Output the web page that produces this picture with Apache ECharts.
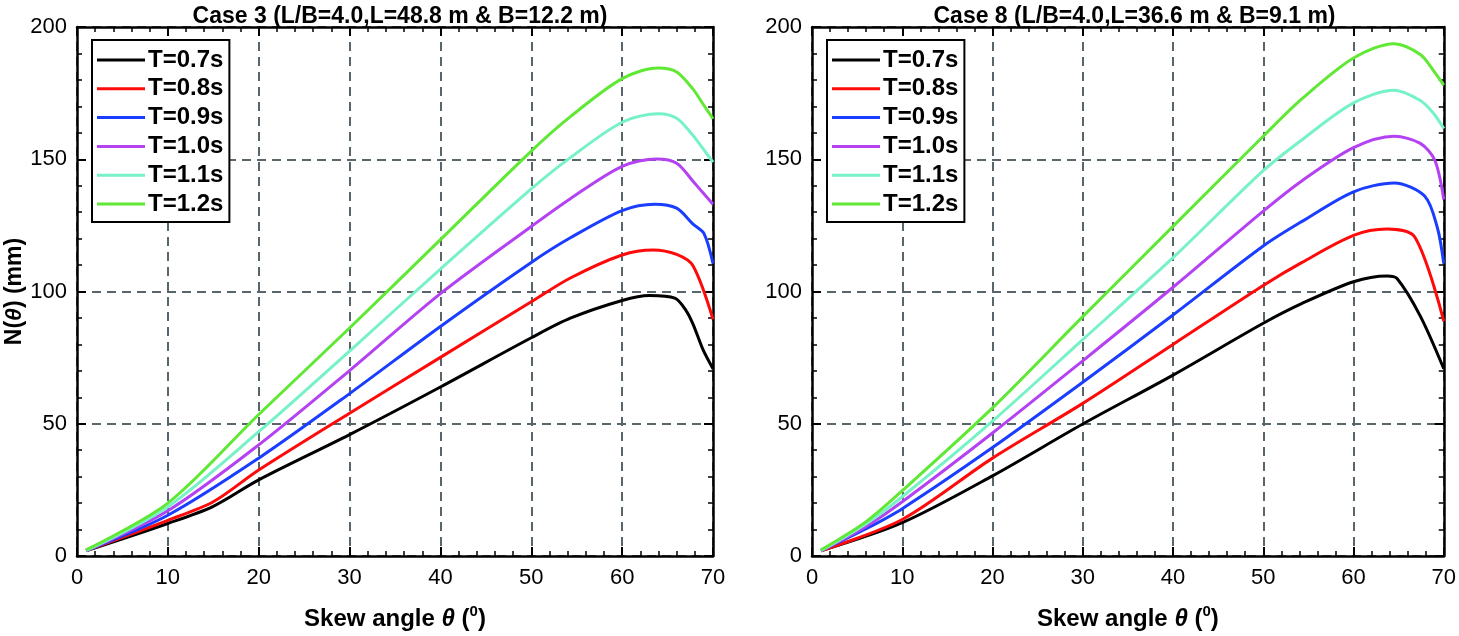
<!DOCTYPE html>
<html>
<head>
<meta charset="utf-8">
<script src="https://cdn.jsdelivr.net/npm/echarts@6/dist/echarts.min.js"></script>
<style>html,body{margin:0;padding:0;background:#fff}#c{width:1459px;height:636px}</style>
</head>
<body>
<div id="c"></div>
<script>
// ---- data ([skew angle, N(theta) mm]) ----
const seriesNames = ["T=0.7s", "T=0.8s", "T=0.9s", "T=1.0s", "T=1.1s", "T=1.2s"];
const seriesColors = ["#000000", "#ff0a0a", "#1a3dff", "#b441f2", "#76f2c6", "#5fe834"];
const panelTitles = ["Case 3 (L/B=4.0,L=48.8 m & B=12.2 m)", "Case 8 (L/B=4.0,L=36.6 m & B=9.1 m)"];

const case3_T07 = [[1,2],[10,12.3],[15,18.8],[20,28.8],[30,45.9],[40,63.9],[50,82.5],[54.3,89.9],[60,96.6],[63,98.5],[65.8,97.5],[67,93],[67.8,87.7],[68.9,78],[70,70.8]];
const case3_T08 = [[1,2],[10,13.5],[15,20.5],[20,32.5],[30,54],[40,75.1],[50,96.1],[54.3,105.1],[60,113.8],[63.4,115.7],[66,114],[67.8,109.7],[70,89.5]];
const case3_T09 = [[1,2],[10,15.4],[20,37],[30,61.4],[40,86.8],[50,111],[54.3,120.3],[60,130.6],[63.6,133],[66,131.5],[67.8,125.5],[69,122],[70,110.6]];
const case3_T10 = [[1,2],[10,17.1],[20,42],[30,70.1],[40,99.2],[50,124.6],[54.3,135.1],[60,147.3],[63.8,150.1],[66,148.5],[67.8,141.7],[68.9,137.3],[70,133]];
const case3_T11 = [[1,2],[10,18.6],[20,47],[30,77.5],[40,108.5],[50,138.8],[54.3,150.6],[60,164],[64,167.2],[66,165.5],[67.8,159],[68.9,154],[70,148.9]];
const case3_T12 = [[1,2.3],[10,20],[20,53.5],[30,86.2],[40,119.6],[50,153.1],[54.3,166.1],[60,180.5],[64,184.5],[66,183],[67.8,176.5],[68.9,170.9],[70,165.3]];

const case8_T07 = [[1,2],[10,12.6],[20,30.3],[30,49.9],[40,68.4],[50,88],[54.3,95.5],[60,103.7],[63.7,105.9],[64.8,105],[67.4,90.7],[70,70.8]];
const case8_T08 = [[1,2],[10,13.8],[20,37],[30,57.7],[40,80],[50,102.3],[54.3,111],[60,121.2],[63.7,123.6],[66.8,120.5],[70,88.8]];
const case8_T09 = [[1,2],[6,10.3],[10,17.9],[20,41],[30,65.7],[40,91.1],[50,117.2],[54.3,126.5],[60,137.7],[64.5,141],[67.9,136],[69.3,124],[70,110.6]];
const case8_T10 = [[1,2],[6,11.2],[10,20.5],[20,46.5],[30,73.8],[40,101.6],[50,130.4],[54.3,141.9],[60,154.4],[64.5,158.7],[67.4,156],[69,149.7],[70,134.8]];
const case8_T11 = [[1,2],[6,12.2],[10,22.4],[20,51],[30,81.8],[40,112.8],[50,145.7],[54.3,157.4],[60,171.3],[64.5,176.1],[67.4,172.2],[68.9,167.2],[70,161.6]];
const case8_T12 = [[1,2.3],[6,13],[10,24.7],[20,56],[30,90.5],[40,124.6],[50,158.7],[54.3,172.9],[60,188.3],[64.5,193.7],[67.4,189.6],[68.9,183.3],[70,178]];

const panelData = [
  [case3_T07, case3_T08, case3_T09, case3_T10, case3_T11, case3_T12],
  [case8_T07, case8_T08, case8_T09, case8_T10, case8_T11, case8_T12]
];

const X_MIN = 0, X_MAX = 70, X_STEP = 10;
const Y_MIN = 0, Y_MAX = 200, Y_STEP = 50;

// ---- layout / style ----
const FONT = '"Liberation Sans", Arial, sans-serif';
const grids = [
  {left: 77, top: 27, width: 636, height: 536},
  {left: 812, top: 27, width: 635, height: 536}
];
const gridColor = '#58666b';

const xAxes = [], yAxes = [], series = [], legends = [], titles = [];
grids.forEach((g, gi) => {
  const base = {
    type: 'value', gridIndex: gi, min: X_MIN, max: X_MAX, interval: X_STEP,
    axisLine: {show: true, onZero: false, lineStyle: {color: '#000', width: 2.5}},
    axisTick: {show: true, inside: true, length: 9, lineStyle: {color: '#000', width: 2}},
    minorTick: {show: true, splitNumber: 5, length: 5, lineStyle: {color: '#000', width: 1.5}},
  };
  xAxes.push(Object.assign({}, base, {
    position: 'bottom',
    axisLabel: {show: true, fontFamily: FONT, fontSize: 22, color: '#000', margin: 11},
    splitLine: {show: true, lineStyle: {color: gridColor, width: 2, type: [9, 6]}},
    name: 'Skew angle {i|θ} ({s|0})', nameLocation: 'middle', nameGap: 48,
    nameTextStyle: {fontFamily: FONT, fontSize: 24, fontWeight: 'bold', color: '#000',
      rich: {i: {fontFamily: FONT, fontSize: 24, fontWeight: 'bold', fontStyle: 'italic', color: '#000'},
             s: {fontFamily: FONT, fontSize: 15, fontWeight: 'bold', color: '#000', padding: [0, 0, 15, 0]}}}
  }));
  xAxes.push(Object.assign({}, base, {
    position: 'top', axisLabel: {show: false}, splitLine: {show: false}
  }));
  const ybase = {
    type: 'value', gridIndex: gi, min: Y_MIN, max: Y_MAX, interval: Y_STEP,
    axisLine: {show: true, onZero: false, lineStyle: {color: '#000', width: 2.5}},
    axisTick: {show: true, inside: true, length: 9, lineStyle: {color: '#000', width: 2}},
    minorTick: {show: true, splitNumber: 5, length: 5, lineStyle: {color: '#000', width: 1.5}},
  };
  yAxes.push(Object.assign({}, ybase, {
    position: 'left',
    axisLabel: {show: true, fontFamily: FONT, fontSize: 22, color: '#000', margin: 10},
    splitLine: {show: true, lineStyle: {color: gridColor, width: 2, type: [9, 6]}},
    name: gi === 0 ? 'N({i|θ}) (mm)' : '', nameLocation: 'middle', nameGap: 43,
    nameTextStyle: {fontFamily: FONT, fontSize: 23, fontWeight: 'bold', color: '#000',
      rich: {i: {fontFamily: FONT, fontSize: 23, fontWeight: 'bold', fontStyle: 'italic', color: '#000'}}}
  }));
  yAxes.push(Object.assign({}, ybase, {
    position: 'right', axisLabel: {show: false}, splitLine: {show: false}
  }));
  panelData[gi].forEach((d, si) => {
    series.push({
      type: 'line', name: seriesNames[si], xAxisIndex: gi * 2, yAxisIndex: gi * 2,
      data: d, showSymbol: false, symbol: 'none', smooth: 0.3,
      lineStyle: {color: seriesColors[si], width: 3, join: 'round'}, itemStyle: {color: seriesColors[si]},
      z: 3
    });
  });
  legends.push({
    orient: 'vertical', left: g.left + 15, top: 40,
    data: seriesNames, icon: 'rect', itemWidth: 48, itemHeight: 3, itemGap: 4.8,
    backgroundColor: '#fff', borderColor: '#000', borderWidth: 2,
    padding: [8, 6, 6, 5], selectedMode: false,
    textStyle: {fontFamily: FONT, fontSize: 24, fontWeight: 'bold', color: '#000', lineHeight: 22, padding: [0, 0, 0, -2]}
  });
  titles.push({
    text: panelTitles[gi], left: g.left + g.width / 2, top: 0, textAlign: 'center',
    textStyle: {fontFamily: FONT, fontSize: 23, fontWeight: 'bold', color: '#000'}
  });
});

const chart = echarts.init(document.getElementById('c'), null, {renderer: 'canvas'});
chart.setOption({
  animation: false,
  backgroundColor: '#fff',
  title: titles,
  legend: legends,
  grid: grids,
  xAxis: xAxes,
  yAxis: yAxes,
  series: series
});
</script>
</body>
</html>
